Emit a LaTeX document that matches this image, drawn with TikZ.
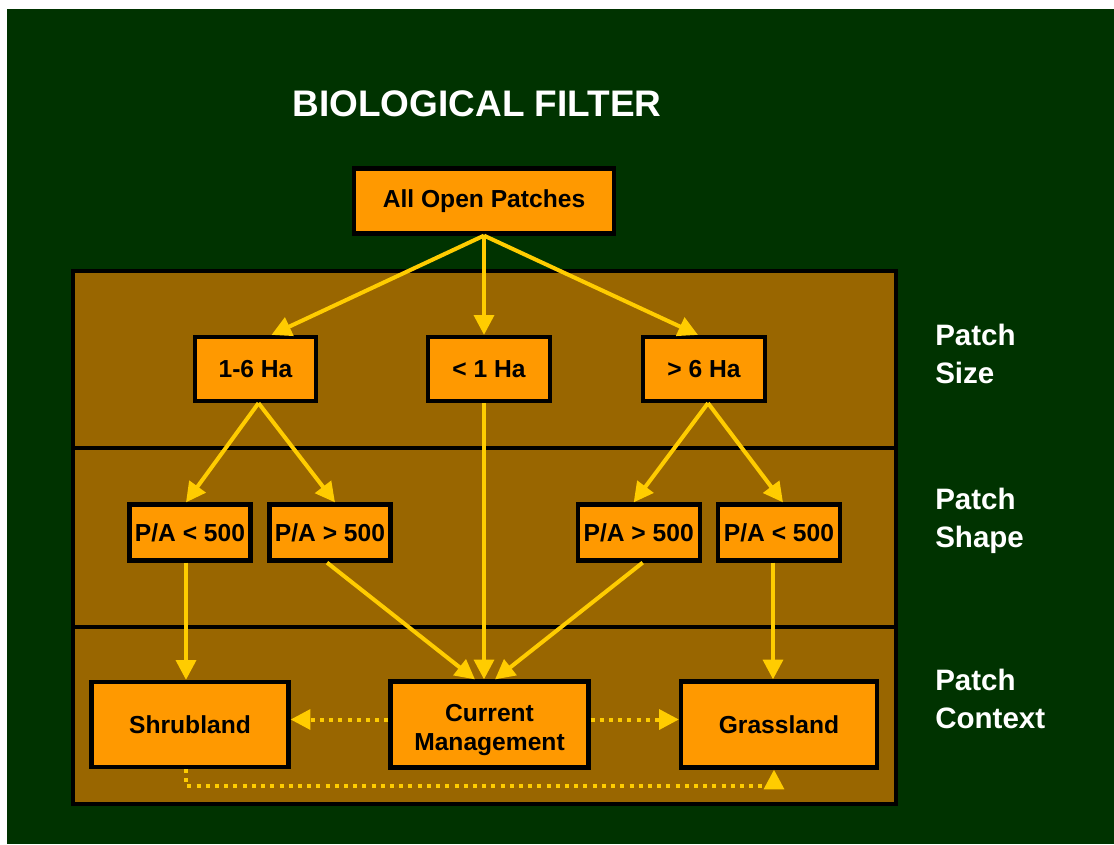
\documentclass[tikz,border=0pt]{standalone}
\usepackage{fontspec}
\setmainfont{Liberation Sans}
\usepackage{xcolor}
\usetikzlibrary{arrows.meta,calc}
\definecolor{bggreen}{HTML}{003300}
\definecolor{bandbrown}{HTML}{996600}
\definecolor{boxorange}{HTML}{FF9900}
\definecolor{flowyellow}{HTML}{FFCC00}
\begin{document}
\begin{tikzpicture}[x=0.025cm,y=-0.025cm,
  box/.style={draw=black,line width=3pt,fill=boxorange,inner sep=0pt,align=center,
    font=\fontsize{17.5}{21}\selectfont\bfseries},
  flow/.style={draw=flowyellow,line width=2.85pt,-{Triangle[length=14pt,width=14pt]}},
  dotflow/.style={flow,dash pattern=on 2.85pt off 3.7pt},
  rowlabel/.style={anchor=west,align=left,text=white,inner sep=0pt,
    font=\fontsize{21}{27}\selectfont\bfseries}]
\useasboundingbox (0,0) rectangle (1114,844);
\fill[white] (0,0) rectangle (1114,844);
\fill[bggreen] (7,9) rectangle (1114,844);
% bands
\draw[line width=3pt,fill=bandbrown] (73,271) rectangle (896,804);
\draw[line width=3pt] (73,448)--(896,448);
\draw[line width=3pt] (73,627)--(896,627);
\node[text=white,font=\fontsize{26.3}{30}\selectfont\bfseries] (title) at (477,104) {BIOLOGICAL FILTER};
\node[rowlabel] (sizelbl) at (935,354) {Patch\\Size};
\node[rowlabel] (shapelbl) at (935,521) {Patch\\Shape};
\node[rowlabel] (contextlbl) at (935,699) {Patch\\Context};
% boxes (sizes in px of the 1114 wide picture)
\node[box,minimum width=260*0.025cm,minimum height=65*0.025cm] (allpatches) at (484,201) {All Open Patches};
\node[box,minimum width=121*0.025cm,minimum height=64*0.025cm] (ha16) at (255.5,369) {1-6 Ha};
\node[box,minimum width=122*0.025cm,minimum height=64*0.025cm] (ha1) at (489,369) {< 1 Ha};
\node[box,minimum width=122*0.025cm,minimum height=64*0.025cm] (ha6) at (704,369) {> 6 Ha};
\node[box,minimum width=121*0.025cm,minimum height=56*0.025cm] (pa1) at (190,532.5) {P/A < 500};
\node[box,minimum width=121*0.025cm,minimum height=56*0.025cm] (pa2) at (330,532.5) {P/A > 500};
\node[box,minimum width=122*0.025cm,minimum height=56*0.025cm] (pa3) at (638.7,532.5) {P/A > 500};
\node[box,minimum width=122*0.025cm,minimum height=56*0.025cm] (pa4) at (779,532.5) {P/A < 500};
\node[box,minimum width=197*0.025cm,minimum height=85*0.025cm] (shrub) at (190,724.5) {Shrubland};
\node[box,minimum width=198*0.025cm,minimum height=86*0.025cm,font=\fontsize{17.5}{20.6}\selectfont\bfseries] (manage) at (489.5,724.5) {\rule{0pt}{20pt}Current\\Management};
\node[box,minimum width=196*0.025cm,minimum height=86*0.025cm] (grass) at (779,724.5) {Grassland};
% arrows
\draw[flow] (allpatches.south)--($(ha16.north)+(16,0)$);
\draw[flow] (allpatches.south)--($(ha1.north)+(-5,0)$);
\draw[flow] (allpatches.south)--($(ha6.north)+(-6,0)$);
\draw[flow] ($(ha16.south)+(3,0)$)--($(pa1.north)+(-4,0)$);
\draw[flow] ($(ha16.south)+(3,0)$)--($(pa2.north)+(5,0)$);
\draw[flow] ($(ha6.south)+(4,0)$)--($(pa3.north)+(-5,0)$);
\draw[flow] ($(ha6.south)+(4,0)$)--($(pa4.north)+(4,0)$);
\draw[flow] ($(ha1.south)+(-5,0)$)--($(manage.north)+(-5.5,0)$);
\draw[flow] ($(pa1.south)+(-4,0)$)--($(shrub.north)+(-4,0)$);
\draw[flow] ($(pa2.south)+(-3,0)$)--($(manage.north)+(-14.5,0)$);
\draw[flow] ($(pa3.south)+(4,0)$)--($(manage.north)+(5.5,0)$);
\draw[flow] ($(pa4.south)+(-6,0)$)--($(grass.north)+(-6,0)$);
\draw[dotflow] ($(manage.west)+(0,-5)$)--($(shrub.east)+(0,-5)$);
\draw[dotflow] ($(manage.east)+(0,-5)$)--($(grass.west)+(0,-5)$);
\draw[dotflow] ($(shrub.south)+(-4,0)$)--++(0,17)-|($(grass.south)+(-5,0)$);
\end{tikzpicture}
\end{document}
